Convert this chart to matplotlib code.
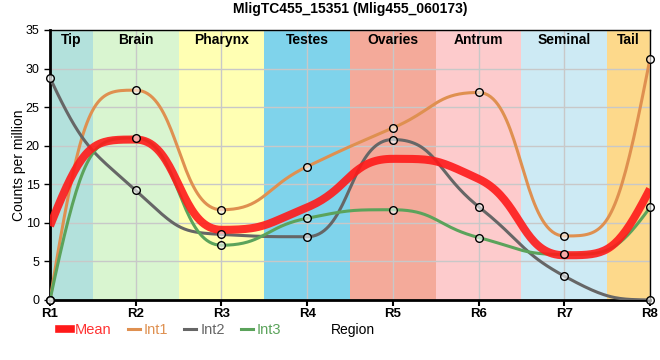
import numpy as np
import matplotlib
matplotlib.use("Agg")
import matplotlib.pyplot as plt
from matplotlib.lines import Line2D

plt.rcParams['font.family'] = ['Liberation Sans', 'DejaVu Sans']

regions = ["R1", "R2", "R3", "R4", "R5", "R6", "R7", "R8"]
int1 = [0.0, 27.2, 11.7, 17.3, 22.3, 26.9, 8.3, 31.3]
int2 = [28.8, 14.2, 8.5, 8.2, 20.8, 12.1, 3.1, 0.0]
int3 = [0.0, 21.0, 7.1, 10.6, 11.7, 8.1, 5.9, 12.0]
mean = [9.6, 20.8, 9.1, 12.0, 18.3, 15.7, 5.8, 14.4]

band_names = ["Tip", "Brain", "Pharynx", "Testes", "Ovaries", "Antrum", "Seminal", "Tail"]
band_colors = ["#b3e1dc", "#d9f5d0", "#ffffb3", "#7fd3eb", "#f4aa9a", "#fdcbcc", "#cdeaf4", "#fdd98b"]


def smooth(y, n=40):
    # monotone slopes, bezier handles at half the step (shorter at the ends)
    y = np.asarray(y, float)
    s = np.diff(y)
    t = np.zeros(len(y))
    for i in range(1, len(y) - 1):
        s0, s1 = s[i - 1], s[i]
        p = (s0 + s1) / 2
        t[i] = (np.sign(s0) + np.sign(s1)) * min(abs(s0), abs(s1), 0.5 * abs(p))
    t[0] = 2 * s[0] - t[1]
    t[-1] = 2 * s[-1] - t[-2]
    u = np.linspace(0, 1, n)[:, None]
    last = len(y) - 2
    pts = []
    for i in range(len(y) - 1):
        a = 0.4 if i == 0 else 0.5
        b = 0.4 if i == last else 0.5
        p0 = np.array([i, y[i]])
        p1 = np.array([i + a, y[i] + t[i] * 0.5])
        p2 = np.array([i + 1 - b, y[i + 1] - t[i + 1] * 0.5])
        p3 = np.array([i + 1, y[i + 1]])
        pts.append((1 - u)**3 * p0 + 3 * (1 - u)**2 * u * p1 + 3 * (1 - u) * u**2 * p2 + u**3 * p3)
    pts = np.vstack(pts)
    return pts[:, 0], pts[:, 1]


fig = plt.figure(figsize=(6.6, 3.6), dpi=100)
ax = fig.add_axes([50 / 660, 60 / 360, 600 / 660, 270 / 360])

for i, (nm, c) in enumerate(zip(band_names, band_colors)):
    lo = max(i - 0.5, 0)
    hi = min(i + 0.5, len(regions) - 1)
    ax.axvspan(lo, hi, color=c, lw=0, zorder=0)
    ax.text((lo + hi) / 2, 33.7, nm, ha="center", va="center",
            fontsize=10, fontweight="bold", zorder=5)

ax.grid(True, color="#c8c8c8", lw=1, zorder=1)
ax.set_axisbelow(True)

series = [(int1, "#df9050"), (int2, "#666666"), (int3, "#5ba35b")]
for vals, c in series:
    xs, ys = smooth(vals)
    ax.plot(xs, ys, color=c, lw=2.2, zorder=3)

xs, ys = smooth(mean)
ax.plot(xs, ys, color="#ff1a1a", lw=5.8, alpha=0.9, zorder=4, solid_capstyle="butt")

for vals, c in series:
    ax.plot(range(len(vals)), vals, ls="none", marker="o", ms=5.5,
            mfc=(1, 1, 1, 0.6), mec="black", mew=1, zorder=6, clip_on=False)

ax.set_xlim(0, len(regions) - 1)
ax.set_ylim(0, 35)
ax.set_xticks(range(len(regions)))
ax.set_xticklabels(regions, fontweight="bold", fontsize=9.5)
ax.set_yticks(range(0, 36, 5))
ax.tick_params(axis="y", labelsize=9, length=4, width=1)
ax.tick_params(axis="x", length=4, width=1.5, pad=2)
ax.set_ylabel("Counts per million", fontsize=10)
ax.yaxis.set_label_coords(-0.04, 0.5)

for side in ["left", "bottom"]:
    ax.spines[side].set_linewidth(2)
for side in ["top", "right"]:
    ax.spines[side].set_linewidth(1)

ax.set_title("MligTC455_15351 (Mlig455_060173)", fontsize=10, fontweight="bold", pad=12)

handles = [Line2D([], [], color="#ff1a1a", lw=5.5),
           Line2D([], [], color="#df9050", lw=2.2),
           Line2D([], [], color="#666666", lw=2.2),
           Line2D([], [], color="#5ba35b", lw=2.2)]
leg = fig.legend(handles, ["Mean", "Int1", "Int2", "Int3"], loc="center left",
                 bbox_to_anchor=(46 / 660, 30 / 360), ncol=4, frameon=False,
                 fontsize=10.5, handlelength=0.8, handletextpad=0.3, columnspacing=1.1)
for txt, c in zip(leg.get_texts(), ["#ff3333", "#df9050", "#666666", "#5ba35b"]):
    txt.set_color(c)

fig.text(331 / 660, 30 / 360, "Region", ha="left", va="center", fontsize=10)

fig.savefig("out.png", dpi=100)
